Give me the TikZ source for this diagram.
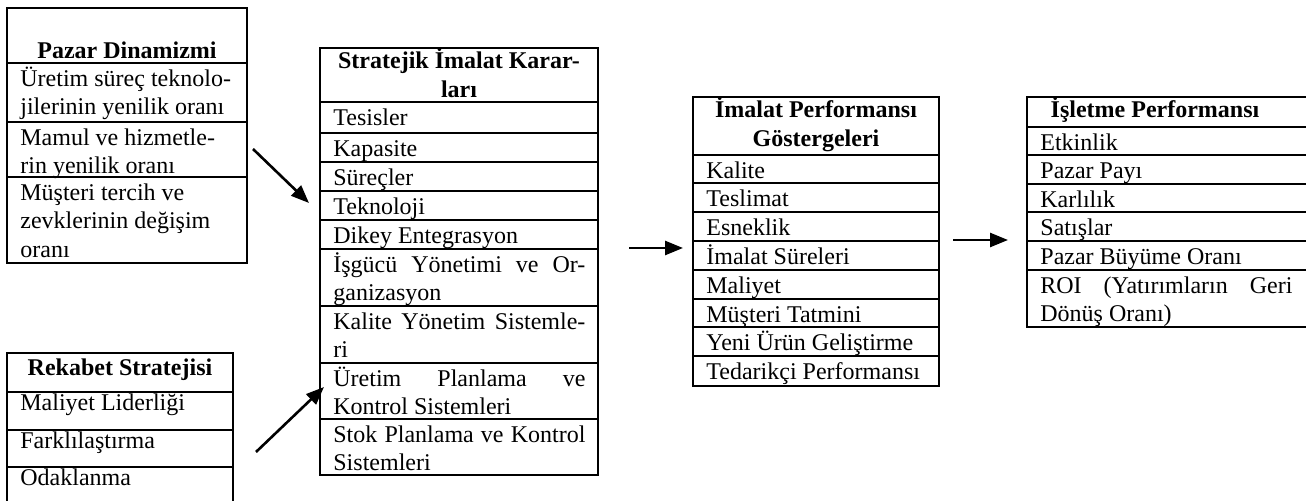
\documentclass[tikz,border=0pt]{standalone}
\usepackage{fontspec}
\setmainfont{Liberation Serif}
\usetikzlibrary{arrows.meta}

\tikzset{
  cellbox/.style={line width=1.2pt},
  celltext/.style={anchor=north west, inner xsep=6.5pt, inner ysep=0pt, align=justify,
    font=\fontsize{12}{14.25}\selectfont, execute at begin node={\rule{0pt}{#1}}},
  celltext/.default=11.5pt,
  headtext/.style={anchor=north, inner sep=0pt, align=center,
    font=\fontsize{12}{14.25}\selectfont\bfseries, execute at begin node={\rule{0pt}{#1}}},
  headtext/.default=10pt,
  flow/.style={line width=1.3pt, -{Triangle[length=9pt,width=7pt]}}
}

\begin{document}
\begin{tikzpicture}[x=0.5pt,y=-0.5pt]
  \useasboundingbox (0,0) rectangle (1306,501);
  \clip (0,0) rectangle (1306,501);

  % Pazar Dinamizmi
  \draw[cellbox] (7,8) rectangle (247,63);
  \node[headtext] (pdh) at (127,38) {Pazar Dinamizmi};
  \foreach \tp/\bt/\txt [count=\k] in {63/122/{Üretim süreç teknolo-\\jilerinin yenilik oranı},
      122/177/{Mamul ve hizmetle-\\rin yenilik oranı},
      177/263/{Müşteri tercih ve\\zevklerinin değişim\\oranı}}{
    \draw[cellbox] (7,\tp) rectangle (247,\bt);
    \node[celltext, text width=107pt] (pd\k) at (7,\tp) {\txt};
  }

  % Rekabet Stratejisi
  \draw[cellbox] (7,353) rectangle (233,392);
  \node[headtext=11pt] (rsh) at (120,353) {Rekabet Stratejisi};
  \foreach \tp/\bt/\txt [count=\k] in {392/430/Maliyet Liderliği, 430/467/Farklılaştırma,
      467/510/Odaklanma}{
    \draw[cellbox] (7,\tp) rectangle (233,\bt);
    \node[celltext=9pt, text width=100pt] (rs\k) at (7,\tp) {\txt};
  }

  % Stratejik Imalat Kararlari
  \draw[cellbox] (320,48) rectangle (598,102);
  \node[headtext] (sikh) at (459,48) {Stratejik İmalat Karar-\\ları};
  \foreach \tp/\bt/\txt [count=\k] in {102/133/Tesisler, 133/162/Kapasite, 162/191/Süreçler,
      191/220/Teknoloji, 220/249/Dikey Entegrasyon,
      249/306/{İşgücü Yönetimi ve Or-\linebreak ganizasyon},
      306/363/{Kalite Yönetim Sistemle-\linebreak ri},
      363/419/{Üretim Planlama ve\linebreak Kontrol Sistemleri},
      419/475/{Stok Planlama ve Kontrol\linebreak Sistemleri}}{
    \draw[cellbox] (320,\tp) rectangle (598,\bt);
    \node[celltext, text width=126pt] (sik\k) at (320,\tp) {\txt};
  }

  % Imalat Performansi Gostergeleri
  \draw[cellbox] (693,97) rectangle (939,155);
  \node[headtext=10.5pt] (ipgh) at (816,97) {İmalat Performansı\\ Göstergeleri};
  \foreach \tp/\bt/\txt [count=\k] in {155/183/Kalite, 183/212/Teslimat, 212/241/Esneklik,
      241/270/İmalat Süreleri, 270/299/Maliyet, 299/327/Müşteri Tatmini,
      327/356/Yeni Ürün Geliştirme, 356/386/Tedarikçi Performansı}{
    \draw[cellbox] (693,\tp) rectangle (939,\bt);
    \node[celltext, text width=110pt] (ipg\k) at (693,\tp) {\txt};
  }

  % Isletme Performansi
  \draw[cellbox] (1027,97) rectangle (1320,127);
  \node[headtext=9pt] (iph) at (1155,97) {İşletme Performansı};
  \foreach \tp/\bt/\txt [count=\k] in {127/155/Etkinlik, 155/184/Pazar Payı, 184/212/Karlılık,
      212/241/Satışlar, 241/270/Pazar Büyüme Oranı,
      270/327/{ROI (Yatırımların Geri\linebreak Dönüş Oranı)}}{
    \draw[cellbox] (1027,\tp) rectangle (1320,\bt);
    \node[celltext, text width=126pt] (ip\k) at (1027,\tp) {\txt};
  }

  \coordinate (pdout) at (253,149);
  \coordinate (sikin1) at (309,203);
  \coordinate (rsout) at (256,452);
  \coordinate (sikin2) at (324,387);
  \coordinate (sikout) at (629,248);
  \coordinate (ipgin) at (683,248);
  \coordinate (ipgout) at (953,240);
  \coordinate (ipin) at (1008,240);

  \draw[flow] (pdout) -- (sikin1);
  \draw[flow] (rsout) -- (sikin2);
  \draw[flow] (sikout) -- (ipgin);
  \draw[flow] (ipgout) -- (ipin);
\end{tikzpicture}
\end{document}
